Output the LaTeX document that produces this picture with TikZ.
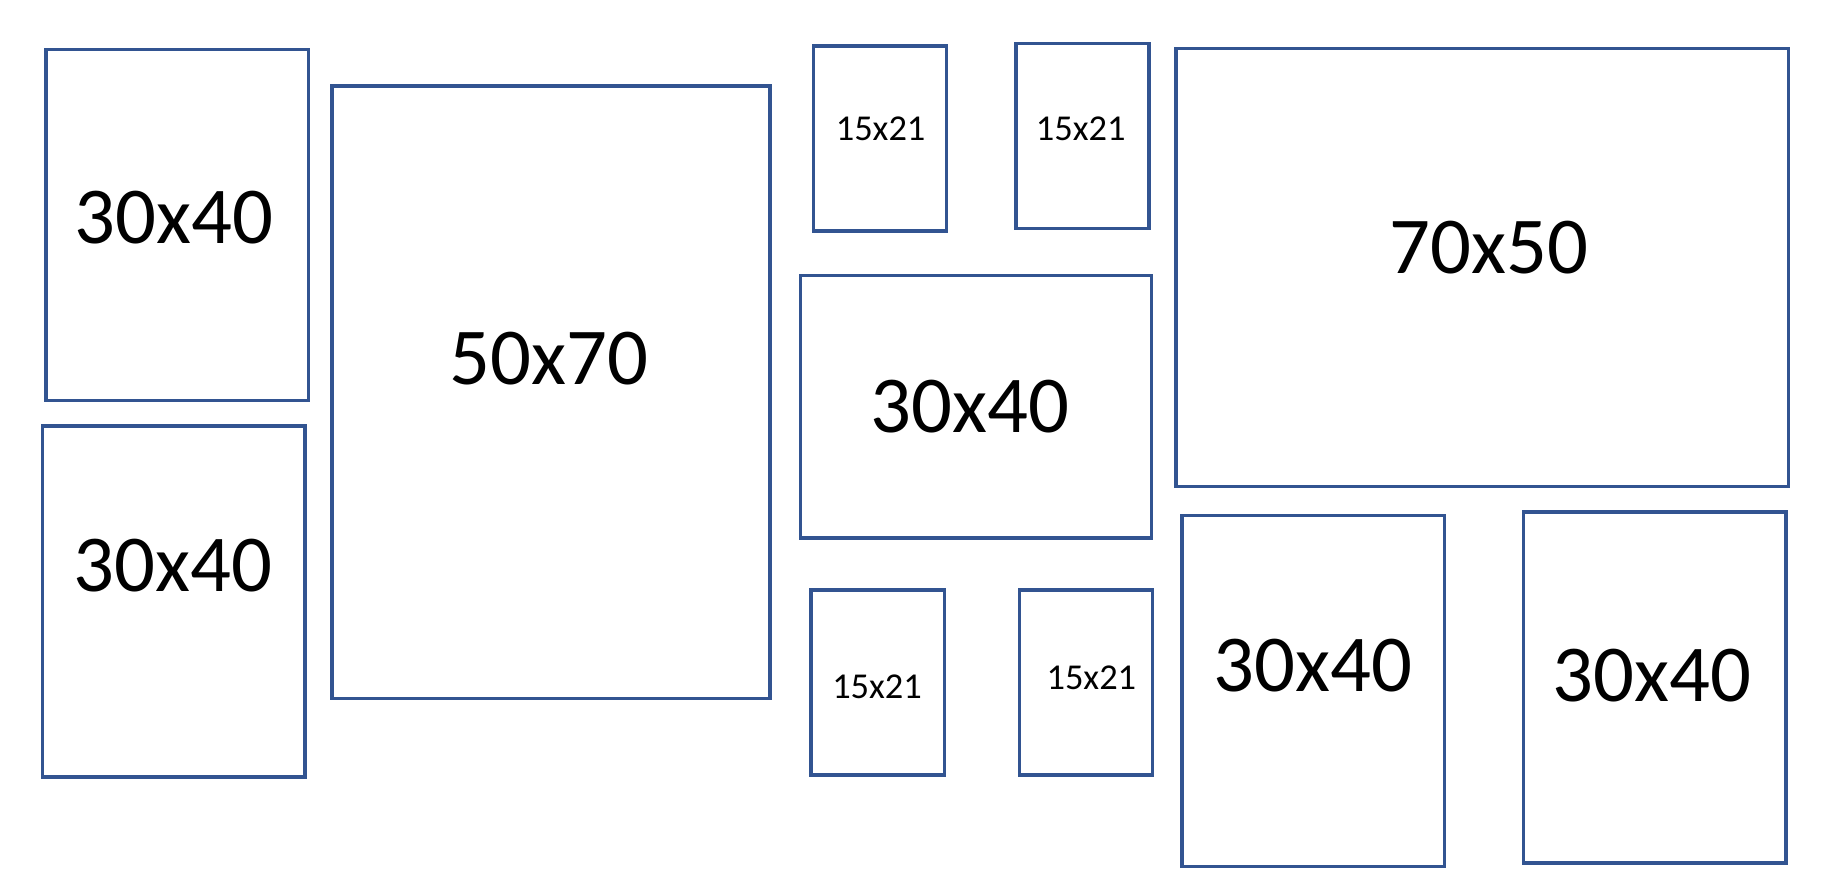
\documentclass[tikz,border=0pt]{standalone}
\usepackage{fontspec}
\setmainfont{Carlito}
\usepackage{tikz}
\usetikzlibrary{positioning}
\definecolor{framblue}{RGB}{50,84,145}

\begin{document}
\begin{tikzpicture}[x=0.01cm,y=-0.01cm,
    frame/.style={draw=framblue,line width=.85pt,anchor=north west,inner sep=0pt,outer sep=0pt},
    portrait/.style={frame,minimum width=2.23cm,minimum height=2.98cm},
    small/.style={frame,minimum width=1.13cm,minimum height=1.57cm},
    biglbl/.style={font=\fontsize{19.5}{22}\selectfont},
    smalllbl/.style={font=\fontsize{8.8}{10}\selectfont}]
    \useasboundingbox (0,0) rectangle (1568,758);
    % left column
    \node[portrait] (a1) at (39,42) {};
    \node[portrait] (a2) at (36,362) {};
    \node[frame,minimum width=3.72cm,minimum height=5.20cm] (b) at (282,73) {};
    % middle group
    \node[small] (c1) at (691,39) {};
    \node[small] (c2) at (863,37) {};
    \node[frame,minimum width=2.98cm,minimum height=2.23cm] (d) at (680,234) {};
    \node[small] (e1) at (689,501) {};
    \node[small] (e2) at (866,501) {};
    % right group
    \node[frame,minimum width=5.20cm,minimum height=3.72cm] (f) at (999,41) {};
    \node[portrait] (g1) at (1004,438) {};
    \node[portrait] (g2) at (1294,435) {};
    % labels
    \node[biglbl] (a1t) at (148,185) {30x40};
    \node[biglbl] (a2t) at (147,480) {30x40};
    \node[biglbl] (bt) at (466,305) {50x70};
    \node[smalllbl] (c1t) at (748,109) {15x21};
    \node[smalllbl] (c2t) at (918,109) {15x21};
    \node[biglbl] (dt) at (824,345) {30x40};
    \node[smalllbl] (e1t) at (745,583) {15x21};
    \node[smalllbl] (e2t) at (927,576) {15x21};
    \node[biglbl] (ft) at (1265,210) {70x50};
    \node[biglbl] (g1t) at (1115,565) {30x40};
    \node[biglbl] (g2t) at (1403,574) {30x40};
\end{tikzpicture}
\end{document}
